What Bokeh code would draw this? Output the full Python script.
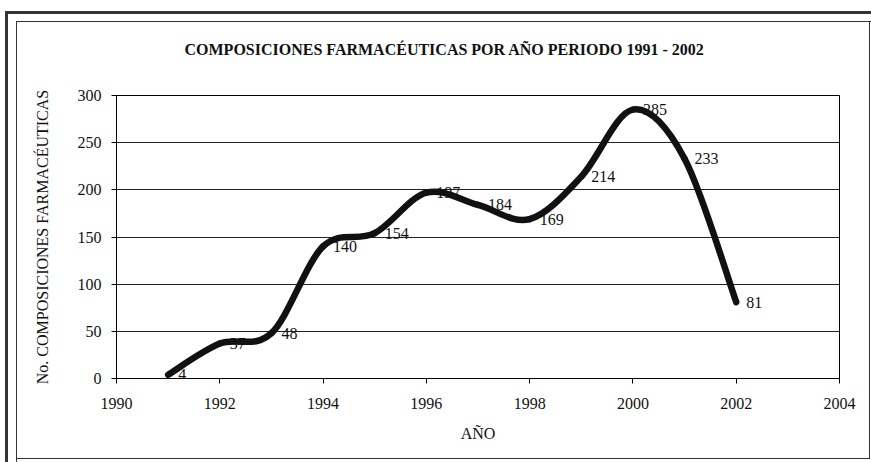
from bokeh.plotting import figure
from bokeh.models import Range1d, FixedTicker, ColumnDataSource, LabelSet, Title
from bokeh.embed import file_html
from bokeh.resources import INLINE

# ---- data ----
years = [1991, 1992, 1993, 1994, 1995, 1996, 1997, 1998, 1999, 2000, 2001, 2002]
counts = [4, 37, 48, 140, 154, 197, 184, 169, 214, 285, 233, 81]
x_ticks = [1990, 1992, 1994, 1996, 1998, 2000, 2002, 2004]
y_ticks = [0, 50, 100, 150, 200, 250, 300]
title_text = "COMPOSICIONES FARMACÉUTICAS POR AÑO PERIODO 1991 - 2002"
x_label = "AÑO"
y_label = "No. COMPOSICIONES FARMACÉUTICAS"

FONT = "Liberation Serif"

p = figure(width=871, height=462, output_backend="svg", toolbar_location=None,
           x_range=Range1d(1990, 2004), y_range=Range1d(0, 300),
           min_border_left=116, min_border_right=32, min_border_top=95,
           min_border_bottom=84)
p.frame_width = 723
p.frame_height = 283
p.border_fill_color = None
p.background_fill_color = "white"
p.styles = {"box-shadow": ", ".join([
    "inset 5px 11px 0 0 white",
    "inset 8px 14px 0 0 #333",
    "inset 16px 21px 0 0 white",
    "inset 17px 22px 0 0 #333",
    "inset -1px -3px 0 0 white",
    "inset -2px -4px 0 0 #333",
])}

p.outline_line_color = "black"
p.outline_line_width = 1
p.xgrid.grid_line_color = None
p.ygrid.grid_line_color = "#222"
p.ygrid.grid_line_width = 1

for ax in (p.xaxis[0], p.yaxis[0]):
    ax.axis_line_color = "black"
    ax.major_tick_line_color = "black"
    ax.major_tick_in = 0
    ax.major_tick_out = 5
    ax.minor_tick_line_color = None
    ax.major_label_text_font = FONT
    ax.major_label_text_font_size = "16px"
    ax.major_label_text_color = "#111"
    ax.axis_label_text_font = FONT
    ax.axis_label_text_font_size = "16px"
    ax.axis_label_text_font_style = "normal"
    ax.axis_label_text_color = "#111"

p.xaxis.ticker = FixedTicker(ticks=x_ticks)
p.yaxis.ticker = FixedTicker(ticks=y_ticks)
p.xaxis.major_label_standoff = 14
p.yaxis.major_label_standoff = 10
p.xaxis.axis_label = x_label
p.yaxis.axis_label = y_label
p.xaxis.axis_label_standoff = 13
p.yaxis.axis_label_standoff = 24

# smooth curve (Catmull-Rom style bezier through the data points)
n = len(years)
x0, y0, x1, y1, cx0, cy0, cx1, cy1 = ([] for _ in range(8))
for i in range(n - 1):
    xa, ya = years[i], counts[i]
    xb, yb = years[i + 1], counts[i + 1]
    xp, yp = (years[i - 1], counts[i - 1]) if i > 0 else (xa, ya)
    xn, yn = (years[i + 2], counts[i + 2]) if i + 2 < n else (xb, yb)
    x0.append(xa); y0.append(ya); x1.append(xb); y1.append(yb)
    cx0.append(xa + (xb - xp) / 6.0); cy0.append(ya + (yb - yp) / 6.0)
    cx1.append(xb - (xn - xa) / 6.0); cy1.append(yb - (yn - ya) / 6.0)

p.bezier(x0=x0, y0=y0, x1=x1, y1=y1, cx0=cx0, cy0=cy0, cx1=cx1, cy1=cy1,
         line_color="#111", line_width=6.5, line_cap="round")

src = ColumnDataSource(dict(x=years, y=counts, t=[str(v) for v in counts]))
p.add_layout(LabelSet(x="x", y="y", text="t", source=src, x_offset=10, y_offset=0,
                      text_align="left", text_baseline="middle",
                      text_font=FONT, text_font_size="16px", text_color="#111"))

t = Title(text=title_text, align="left", text_font=FONT, text_font_size="16px",
          text_font_style="bold", text_color="#111", standoff=75, offset=68)
p.add_layout(t, "above")

open("out.html", "w").write(file_html(p, INLINE))
